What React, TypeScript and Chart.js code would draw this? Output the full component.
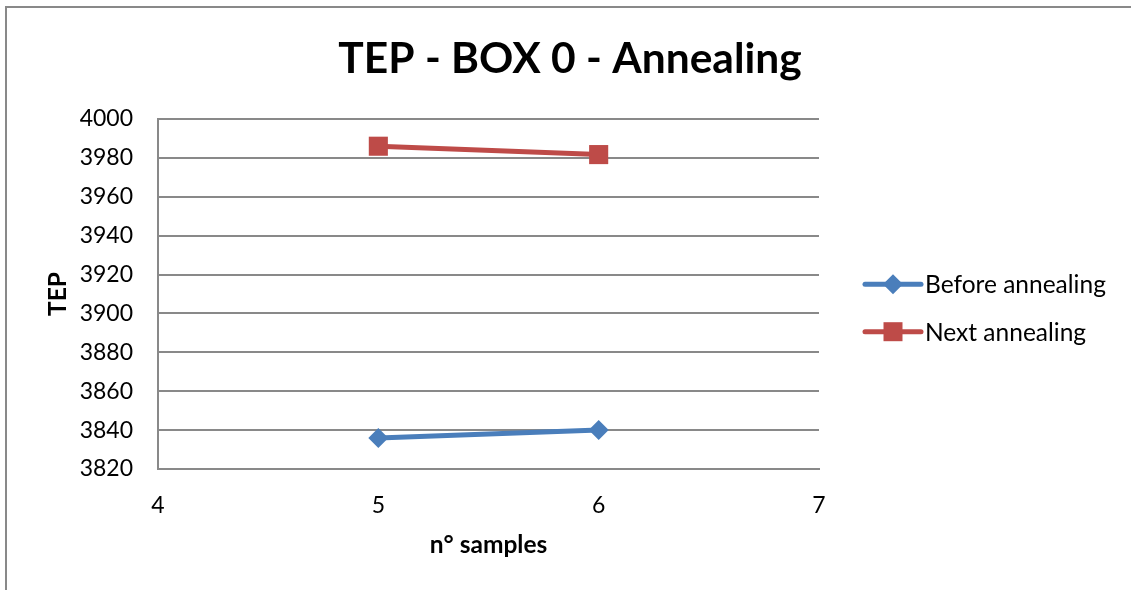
import React, { useEffect, useRef } from "react";
import { Chart, registerables } from "chart.js";

Chart.register(...registerables);

const chartTitle = "TEP - BOX 0 - Annealing";
const xAxisTitle = "n° samples";
const yAxisTitle = "TEP";
const seriesNames = ["Before annealing", "Next annealing"];
const sampleNumbers = [5, 6];
const beforeValues = [3836, 3840];
const nextValues = [3986, 3981.7];
const xTickRange = [4, 7, 1];
const yTickRange = [3820, 4000, 20];

const FONT = "Lato, 'Open Sans', sans-serif";
const GRID = "#898989";
const BLUE = "#4a7ebb";
const RED = "#be4b48";

const sideLegend = {
  id: "sideLegend",
  afterDraw(chart: any) {
    const { ctx, chartArea } = chart;
    const lineStart = chartArea.right + 46;
    const lineEnd = lineStart + 56;
    const mx = (lineStart + lineEnd) / 2;
    const yMid = (chartArea.top + chartArea.bottom) / 2 + 14;
    chart.data.datasets.forEach((ds: any, i: number) => {
      const y = yMid + (i - 0.5) * 47.4;
      ctx.save();
      ctx.strokeStyle = ds.borderColor;
      ctx.lineWidth = 5;
      ctx.lineCap = "round";
      ctx.beginPath();
      ctx.moveTo(lineStart, y);
      ctx.lineTo(lineEnd, y);
      ctx.stroke();
      ctx.fillStyle = ds.pointBackgroundColor;
      ctx.beginPath();
      if (ds.pointStyle === "rectRot") {
        const r = 10;
        ctx.moveTo(mx - r, y);
        ctx.lineTo(mx, y - r);
        ctx.lineTo(mx + r, y);
        ctx.lineTo(mx, y + r);
        ctx.closePath();
      } else {
        const s = 9.5;
        ctx.rect(mx - s, y - s, 2 * s, 2 * s);
      }
      ctx.fill();
      ctx.fillStyle = "#000";
      ctx.font = `24.5px ${FONT}`;
      ctx.textBaseline = "middle";
      ctx.textAlign = "left";
      ctx.fillText(ds.label, lineEnd + 4, y + 1);
      ctx.restore();
    });
  },
};

export default function App() {
  const ref = useRef<HTMLCanvasElement | null>(null);

  useEffect(() => {
    document.body.style.margin = "0";
    if (!ref.current) return;
    const chart = new Chart(ref.current, {
      type: "line",
      data: {
        datasets: [
          {
            label: seriesNames[0],
            data: sampleNumbers.map((x, i) => ({ x, y: beforeValues[i] })),
            borderColor: BLUE,
            backgroundColor: BLUE,
            pointBackgroundColor: BLUE,
            pointBorderColor: BLUE,
            pointStyle: "rectRot",
            pointRadius: 10,
            pointBorderWidth: 0,
            borderWidth: 5,
            tension: 0,
          },
          {
            label: seriesNames[1],
            data: sampleNumbers.map((x, i) => ({ x, y: nextValues[i] })),
            borderColor: RED,
            backgroundColor: RED,
            pointBackgroundColor: RED,
            pointBorderColor: RED,
            pointStyle: "rect",
            pointRadius: 13.5,
            pointBorderWidth: 0,
            borderWidth: 5,
            tension: 0,
          },
        ],
      },
      options: {
        responsive: false,
        animation: false,
        layout: { padding: { left: 9, right: 0, top: 0, bottom: 0 } },
        plugins: {
          legend: { display: false },
          tooltip: { enabled: false },
          title: {
            display: true,
            text: chartTitle,
            color: "#000",
            font: { family: FONT, size: 42.5, weight: "bold", lineHeight: 1.2 },
            padding: { top: 34, bottom: 34 },
          },
        },
        scales: {
          x: {
            type: "linear",
            position: "bottom",
            min: xTickRange[0],
            max: xTickRange[1],
            afterFit: (s: any) => {
              s.height = 121;
            },
            ticks: {
              stepSize: xTickRange[2],
              color: "#000",
              font: { family: FONT, size: 23 },
              padding: 23,
              callback: (v: any) => String(v),
            },
            grid: { display: false, drawTicks: false },
            border: { display: true, color: GRID, width: 2 },
            title: {
              display: true,
              text: xAxisTitle,
              color: "#000",
              font: { family: FONT, size: 24.5, weight: "bold", lineHeight: 1.2 },
              padding: { top: 0, bottom: 30 },
            },
          },
          y: {
            type: "linear",
            position: "left",
            min: yTickRange[0],
            max: yTickRange[1],
            afterFit: (s: any) => {
              s.width = 149;
            },
            ticks: {
              stepSize: yTickRange[2],
              color: "#000",
              font: { family: FONT, size: 23 },
              padding: 25,
              callback: (v: any) => String(v),
            },
            grid: { color: GRID, lineWidth: 2, drawTicks: false },
            border: { display: true, color: GRID, width: 2 },
            title: {
              display: true,
              text: yAxisTitle,
              color: "#000",
              font: { family: FONT, size: 24.5, weight: "bold", lineHeight: 1.2 },
              padding: { top: 34, bottom: 0 },
            },
          },
          legendSpace: {
            type: "linear",
            position: "right",
            display: true,
            afterFit: (s: any) => {
              s.width = 312;
            },
            ticks: { display: false },
            grid: { display: false, drawTicks: false },
            border: { display: false },
          },
        },
      },
      plugins: [sideLegend],
    } as any);
    return () => chart.destroy();
  }, []);

  return (
    <div style={{ position: "absolute", left: 0, top: 0, width: 1131, height: 590, background: "#fff", overflow: "hidden" }}>
      <div
        style={{
          position: "absolute",
          left: 5,
          top: 6,
          width: 1200,
          height: 700,
          borderTop: `2px solid ${GRID}`,
          borderLeft: `2px solid ${GRID}`,
        }}
      />
      <canvas ref={ref} width={1131} height={590} style={{ position: "absolute", left: 0, top: 0, display: "block" }} />
    </div>
  );
}
